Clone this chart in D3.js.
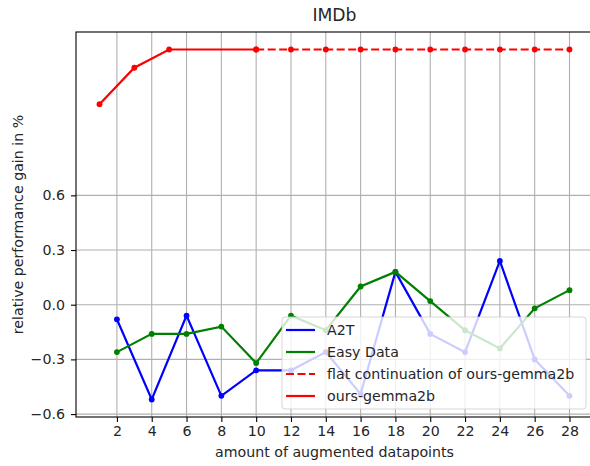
<!DOCTYPE html>
<html>
<head>
<meta charset="utf-8">
<script src="https://cdn.jsdelivr.net/npm/d3@7"></script>
<style>
  body { margin: 0; background: #fff; }
  svg { display: block; font-family: "DejaVu Sans", sans-serif; }
</style>
</head>
<body>
<div class="chart"></div>
<script>
const xEven = [2, 4, 6, 8, 10, 12, 14, 16, 18, 20, 22, 24, 26, 28];
const a2t = [-0.08, -0.52, -0.06, -0.50, -0.36, -0.36, -0.26, -0.49, 0.18, -0.16, -0.26, 0.24, -0.30, -0.50];
const easyData = [-0.26, -0.16, -0.16, -0.12, -0.32, -0.06, -0.14, 0.10, 0.18, 0.02, -0.14, -0.24, -0.02, 0.08];
const oursX = [1, 3, 5, 10];
const ours = [1.10, 1.30, 1.40, 1.40];
const flatX = [10, 12, 14, 16, 18, 20, 22, 24, 26, 28];
const flat = [1.40, 1.40, 1.40, 1.40, 1.40, 1.40, 1.40, 1.40, 1.40, 1.40];
const yTicks = [-0.6, -0.3, 0.0, 0.3, 0.6];
const legendLabels = ["A2T", "Easy Data", "flat continuation of ours-gemma2b", "ours-gemma2b"];

const width = 590, height = 466;
const plotL = 76, plotT = 32, plotR = 593, plotB = 417;
const fontSize = "14.2px";

const svg = d3.select(".chart").append("svg")
              .attr("width", width)
              .attr("height", height);

// matplotlib style 5% margins
const xMin = 1, xMax = 28, yMin = -0.52, yMax = 1.40;
const xPad = (xMax - xMin) * 0.05, yPad = (yMax - yMin) * 0.05;
const x = d3.scaleLinear().domain([xMin - xPad, xMax + xPad]).range([plotL, plotR]);
const y = d3.scaleLinear().domain([yMin - yPad, yMax + yPad]).range([plotB, plotT]);

// grid
svg.append("g").selectAll("line").data(xEven).enter().append("line")
   .attr("x1", d => x(d)).attr("x2", d => x(d))
   .attr("y1", plotT).attr("y2", plotB)
   .style("stroke", "#b0b0b0").style("stroke-width", 1.1);
svg.append("g").selectAll("line").data(yTicks).enter().append("line")
   .attr("x1", plotL).attr("x2", plotR)
   .attr("y1", d => y(d)).attr("y2", d => y(d))
   .style("stroke", "#b0b0b0").style("stroke-width", 1.1);

// axes
const xAxis = svg.append("g")
   .attr("transform", `translate(0,${plotB})`)
   .call(d3.axisBottom(x).tickValues(xEven).tickSize(5).tickPadding(4).tickFormat(d3.format("d")));
const yAxis = svg.append("g")
   .attr("transform", `translate(${plotL},0)`)
   .call(d3.axisLeft(y).tickValues(yTicks).tickSize(5).tickPadding(6)
         .tickFormat(d => d3.format(".1f")(d).replace("-", "\u2212")));
[xAxis, yAxis].forEach(g => {
  g.select(".domain").remove();
  g.selectAll("text").style("font-size", fontSize).style("fill", "#262626")
   .style("font-family", "DejaVu Sans");
  g.selectAll("line").style("stroke", "#000").style("stroke-width", 1.1);
});

const line = d3.line().x(d => x(d[0])).y(d => y(d[1]));

function series(xs, ys, color, dash) {
  const pts = xs.map((d, i) => [d, ys[i]]);
  const g = svg.append("g");
  g.append("path").attr("d", line(pts))
   .style("fill", "none").style("stroke", color).style("stroke-width", 2.2)
   .style("stroke-dasharray", dash || null);
  g.selectAll("circle").data(pts).enter().append("circle")
   .attr("cx", d => x(d[0])).attr("cy", d => y(d[1])).attr("r", 2.9)
   .style("fill", color);
}

series(xEven, a2t, "#0000ff");
series(xEven, easyData, "#008000");
series(flatX, flat, "#ff0000", "8,3.5");
series(oursX, ours, "#ff0000");

// spines
svg.append("rect")
   .attr("x", plotL).attr("y", plotT)
   .attr("width", plotR - plotL).attr("height", plotB - plotT)
   .style("fill", "none").style("stroke", "#000").style("stroke-width", 1.1);

// title and labels
svg.append("text").attr("x", (plotL + plotR) / 2).attr("y", 21)
   .style("text-anchor", "middle").style("font-size", "17.2px").style("fill", "#262626")
   .text("IMDb");
svg.append("text").attr("x", (plotL + plotR) / 2).attr("y", 457)
   .style("text-anchor", "middle").style("font-size", fontSize).style("fill", "#262626")
   .text("amount of augmented datapoints");
svg.append("text")
   .attr("transform", `translate(23,${(plotT + plotB) / 2}) rotate(-90)`)
   .style("text-anchor", "middle").style("font-size", fontSize).style("fill", "#262626")
   .text("relative performance gain in %");

// legend
const legendColors = ["#0000ff", "#008000", "#ff0000", "#ff0000"];
const legendDash = [null, null, "8,3.5", null];
const legend = svg.append("g");
legend.append("rect")
      .attr("x", 282).attr("y", 317).attr("width", 304).attr("height", 92)
      .attr("rx", 3)
      .style("fill", "#fff").style("fill-opacity", 0.8)
      .style("stroke", "#cccccc").style("stroke-opacity", 0.8);
const rows = legend.selectAll("g").data(legendLabels).enter().append("g")
      .attr("transform", (d, i) => `translate(0,${330 + i * 22})`);
rows.append("line")
    .attr("x1", 286).attr("x2", 315)
    .style("stroke", (d, i) => legendColors[i]).style("stroke-width", 2.2)
    .style("stroke-dasharray", (d, i) => legendDash[i]);
rows.append("text")
    .attr("x", 327).attr("y", 5)
    .style("font-size", fontSize).style("fill", "#262626")
    .text(d => d);
</script>
</body>
</html>
